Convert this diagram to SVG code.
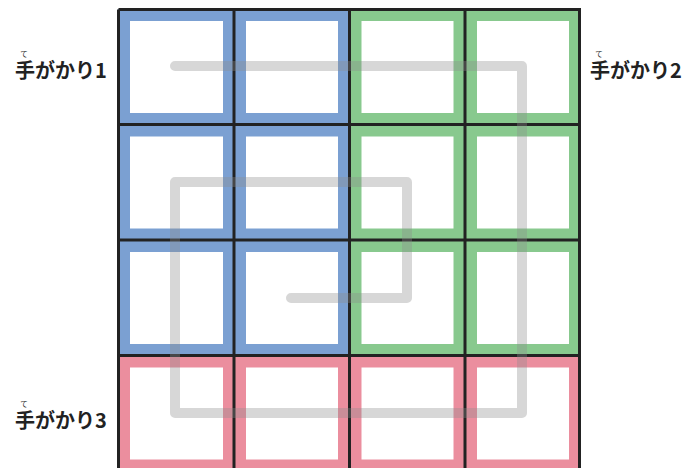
<svg xmlns="http://www.w3.org/2000/svg" width="699" height="468" viewBox="0 0 699 468">
<style>
.b{fill:#7ba0d2}.g{fill:#88c98e}.p{fill:#eb8e9e}
.in{fill:#fff}
.lbl{font-family:"Noto Sans CJK JP","Noto Sans",sans-serif;font-weight:bold;font-size:20px;fill:#222}
.rb{font-family:"Noto Sans CJK JP",sans-serif;font-size:7.5px;fill:#222;text-anchor:middle}
.grid{stroke:#222;stroke-width:3;fill:none}
.path{fill:none;stroke:#8c8c8c;stroke-opacity:0.35;stroke-width:10;stroke-linecap:round;stroke-linejoin:round}
</style>
<rect width="699" height="468" fill="#fff"/>
<g id="cells">
<g id="r1">
<rect class="b" x="118" y="9" width="116" height="116"/><rect class="in" x="130" y="21" width="93" height="92"/>
<rect class="b" x="234" y="9" width="116" height="116"/><rect class="in" x="246" y="21" width="92" height="92"/>
<rect class="g" x="349.5" y="9" width="116" height="116"/><rect class="in" x="361.5" y="21" width="92" height="92"/>
<rect class="g" x="465" y="9" width="115" height="116"/><rect class="in" x="477" y="21" width="92" height="92"/>
</g>
<g id="r2">
<rect class="b" x="118" y="124.5" width="116" height="116"/><rect class="in" x="130" y="136.5" width="93" height="92"/>
<rect class="b" x="234" y="124.5" width="116" height="116"/><rect class="in" x="246" y="136.5" width="92" height="92"/>
<rect class="g" x="349.5" y="124.5" width="116" height="116"/><rect class="in" x="361.5" y="136.5" width="92" height="92"/>
<rect class="g" x="465" y="124.5" width="115" height="116"/><rect class="in" x="477" y="136.5" width="92" height="92"/>
</g>
<g id="r3">
<rect class="b" x="118" y="240" width="116" height="116"/><rect class="in" x="130" y="252" width="93" height="92"/>
<rect class="b" x="234" y="240" width="116" height="116"/><rect class="in" x="246" y="252" width="92" height="92"/>
<rect class="g" x="349.5" y="240" width="116" height="116"/><rect class="in" x="361.5" y="252" width="92" height="92"/>
<rect class="g" x="465" y="240" width="115" height="116"/><rect class="in" x="477" y="252" width="92" height="92"/>
</g>
<g id="r4">
<rect class="p" x="118" y="355.5" width="116" height="116"/><rect class="in" x="130" y="367.5" width="93" height="92"/>
<rect class="p" x="234" y="355.5" width="116" height="116"/><rect class="in" x="246" y="367.5" width="92" height="92"/>
<rect class="p" x="349.5" y="355.5" width="116" height="116"/><rect class="in" x="361.5" y="367.5" width="92" height="92"/>
<rect class="p" x="465" y="355.5" width="115" height="116"/><rect class="in" x="477" y="367.5" width="92" height="92"/>
</g>
</g>
<g id="gridlines">
<path class="grid" d="M118.5 9.5H579.5V472M118.5 9.5V472M234 9.5V472M349.5 9.5V472M465 9.5V472M118.5 124.5H579.5M118.5 240H579.5M118.5 355.5H579.5"/>
</g>
<g id="connectors">
<path class="path" d="M175 66H522V413H175V182H407V298H291"/>
</g>
<g id="label1">
<text class="rb" x="24" y="57">て</text>
<text class="lbl" x="15" y="78">手がかり1</text>
</g>
<g id="label2">
<text class="rb" x="599" y="57">て</text>
<text class="lbl" x="590" y="78">手がかり2</text>
</g>
<g id="label3">
<text class="rb" x="24" y="407">て</text>
<text class="lbl" x="15" y="428">手がかり3</text>
</g>
</svg>
